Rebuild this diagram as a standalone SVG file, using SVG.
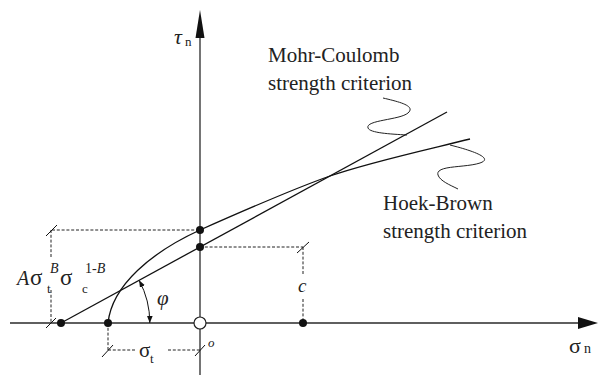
<svg xmlns="http://www.w3.org/2000/svg" width="598" height="375" viewBox="0 0 598 375">
<style>
.axis{stroke:#2a2a2a;stroke-width:1.3;fill:none}
.curve{stroke:#111;stroke-width:1.3;fill:none}
.dash{stroke:#222;stroke-width:1;fill:none;stroke-dasharray:3,1.8}
.tick{stroke:#111;stroke-width:1;fill:none}
.lead{stroke:#222;stroke-width:1;fill:none}
.dot{fill:#111}
.t{font-family:'Liberation Serif','DejaVu Serif',serif;fill:#222}
.i{font-style:italic}
</style>
<defs>
<marker id="arr" viewBox="0 0 10 8" refX="10" refY="4" markerWidth="7" markerHeight="5.6" markerUnits="userSpaceOnUse" orient="auto-start-reverse">
<path d="M0,0 L10,4 L0,8 Z" fill="#111"/>
</marker>
</defs>
<rect width="598" height="375" fill="#fff"/>
<g id="axes">
<line class="axis" x1="10" y1="323" x2="582" y2="323"/>
<path d="M598,323 L578,317 L578,329 Z" fill="#111"/>
<line class="axis" x1="200" y1="36" x2="200" y2="375"/>
<path d="M200,10 L195.5,38 L204.5,38 Z" fill="#111"/>
</g>
<g id="connectors">
<line class="dash" x1="52" y1="230" x2="200" y2="230"/>
<line class="dash" x1="51" y1="230" x2="51" y2="258"/>
<line class="dash" x1="51" y1="290" x2="51" y2="323"/>
<line class="tick" x1="46" y1="236" x2="57" y2="225"/>
<line class="tick" x1="46" y1="328" x2="56" y2="318"/>
<line class="dash" x1="200" y1="247" x2="303" y2="247"/>
<line class="tick" x1="297" y1="253" x2="309" y2="242"/>
<line class="dash" x1="303" y1="247" x2="303" y2="275"/>
<line class="dash" x1="303" y1="299" x2="303" y2="323"/>
<line class="dash" x1="108" y1="323" x2="108" y2="350"/>
<line class="dash" x1="108" y1="350" x2="135" y2="350"/>
<line class="dash" x1="168" y1="350" x2="200" y2="350"/>
<line class="tick" x1="102" y1="357" x2="113" y2="345"/>
<line class="tick" x1="195" y1="356" x2="205" y2="345"/>
<path class="tick" d="M149.8,323 A89,89 0 0 0 139.1,280.3" marker-start="url(#arr)" marker-end="url(#arr)"/>
</g>
<g id="mohr-coulomb">
<line class="curve" x1="61" y1="323" x2="447" y2="112"/>
<path class="lead" d="M383,98 C400,102 416,106 408,113 C400,120 365,120 368,128 C370,133 390,134 407,135"/>
</g>
<g id="hoek-brown">
<path class="curve" d="M108,323 C112,285 152,252 200,230 C245,210 290,190 330,176 S430,149 470,139"/>
<path class="lead" d="M450,145 C470,150 495,158 480,163 C465,168 435,165 438,175 C440,181 450,185 458,189"/>
</g>
<g id="points">
<circle class="dot" cx="61" cy="323" r="4"/>
<circle class="dot" cx="108" cy="323" r="4"/>
<circle class="dot" cx="303" cy="323" r="4"/>
<circle class="dot" cx="200" cy="230" r="4"/>
<circle class="dot" cx="200" cy="247" r="4"/>
<circle cx="200" cy="323" r="6" fill="#fff" stroke="#222" stroke-width="1.2"/>
</g>
<g id="labels">
<text class="t" x="268" y="62" font-size="21">Mohr-Coulomb</text>
<text class="t" x="268" y="90" font-size="21">strength criterion</text>
<text class="t" x="383" y="210" font-size="21">Hoek-Brown</text>
<text class="t" x="383" y="238" font-size="21">strength criterion</text>
<text class="t i" x="174" y="44" font-size="22">τ</text>
<text class="t" x="185" y="46" font-size="13">n</text>
<text class="t" x="569" y="353" font-size="22">σ</text>
<text class="t" x="584" y="353" font-size="14">n</text>
<text class="t i" x="298" y="292" font-size="19">c</text>
<text class="t i" x="208" y="347" font-size="13">o</text>
<text class="t i" x="157" y="305" font-size="21">φ</text>
<text class="t" x="139" y="357" font-size="21">σ</text>
<text class="t" x="150" y="363" font-size="13">t</text>
<text class="t i" x="17" y="285" font-size="20">A</text>
<text class="t" x="30" y="285" font-size="23">σ</text>
<text class="t" x="47" y="293" font-size="13">t</text>
<text class="t i" x="50" y="273" font-size="14">B</text>
<text class="t" x="60" y="285" font-size="23">σ</text>
<text class="t" x="82" y="293" font-size="13">c</text>
<text class="t" x="85" y="273" font-size="14">1-<tspan class="i">B</tspan></text>
</g>
</svg>
